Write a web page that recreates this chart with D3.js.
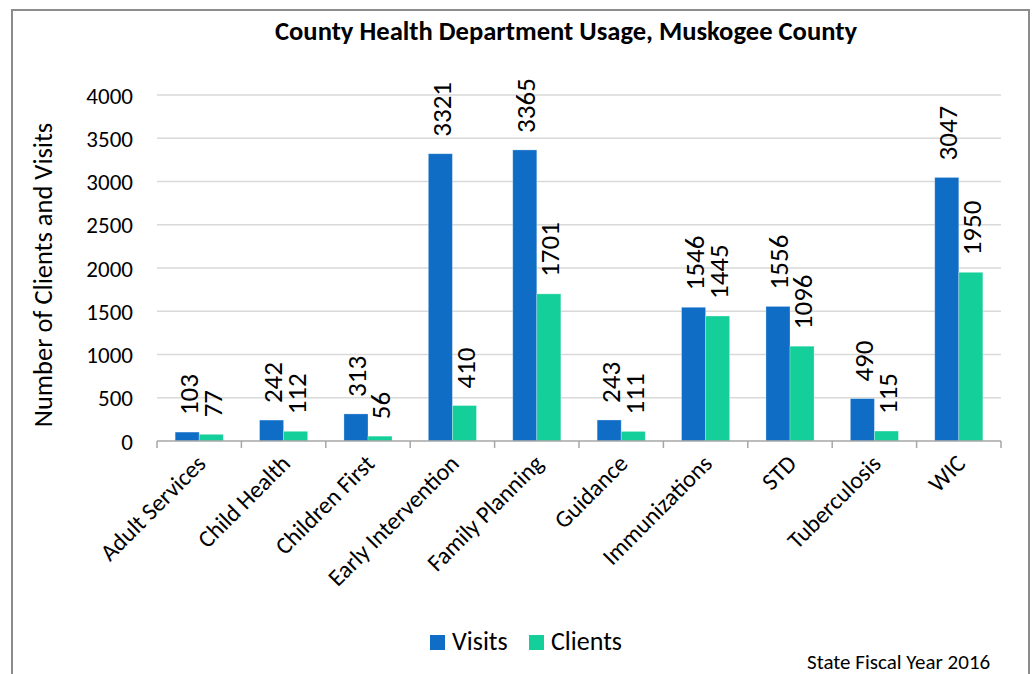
<!DOCTYPE html>
<html>
<head>
<meta charset="utf-8">
<script src="https://cdn.jsdelivr.net/npm/d3@7"></script>
<style>
  body { margin: 0; background: #fff; }
  svg text { font-family: Carlito, Lato, "Open Sans", sans-serif; fill: #000; }
</style>
</head>
<body>
<div id="chart"></div>
<script>
'use strict';

const categories = ['Adult Services', 'Child Health', 'Children First', 'Early Intervention',
  'Family Planning', 'Guidance', 'Immunizations', 'STD', 'Tuberculosis', 'WIC'];
const visits = [103, 242, 313, 3321, 3365, 243, 1546, 1556, 490, 3047];
const clients = [77, 112, 56, 410, 1701, 111, 1445, 1096, 115, 1950];
const seriesNames = ['Visits', 'Clients'];
const seriesColours = ['#106dc6', '#14cf99'];
const yTicks = [0, 500, 1000, 1500, 2000, 2500, 3000, 3500, 4000];

function makeBarChart() {
  var width = 1032;
  var height = 674;

  var svg = d3.select('#chart')
              .append('svg')
              .attr('width', width)
              .attr('height', height);

  // frame around the chart
  svg.append('rect')
     .attr('x', 12).attr('y', 10)
     .attr('width', 1017).attr('height', 680)
     .attr('fill', 'none')
     .attr('stroke', '#8c8c8c')
     .attr('stroke-width', 2);

  var x0 = d3.scaleBand()
             .domain(categories)
             .range([157, 1001]);

  var x1 = d3.scaleBand()
             .domain(seriesNames)
             .range([x0.bandwidth() * 0.215, x0.bandwidth() * 0.785]);

  var y = d3.scaleLinear()
            .domain([0, 4000])
            .range([441, 95]);

  var colour = d3.scaleOrdinal().domain(seriesNames).range(seriesColours);

  // gridlines
  svg.append('g')
     .selectAll('line')
     .data(yTicks.slice(1))
     .enter()
     .append('line')
     .attr('x1', 157).attr('x2', 1001)
     .attr('y1', function(d) { return y(d); })
     .attr('y2', function(d) { return y(d); })
     .attr('stroke', '#d9d9d9')
     .attr('stroke-width', 1.5);

  // y axis labels
  var yAxis = svg.append('g')
                 .attr('transform', 'translate(157,0)')
                 .call(d3.axisLeft(y).tickValues(yTicks).tickFormat(d3.format('d')).tickSize(0).tickPadding(24));
  yAxis.select('.domain').remove();
  yAxis.selectAll('text')
       .style('font-size', '23px')
       .attr('dy', '0.35em');

  // bars
  var rows = categories.map(function(c, i) {
    return { category: c, values: [visits[i], clients[i]] };
  });

  var group = svg.selectAll('.group')
                 .data(rows)
                 .enter()
                 .append('g')
                 .attr('class', 'group')
                 .attr('transform', function(d) { return 'translate(' + x0(d.category) + ',0)'; });

  var bar = group.selectAll('.bar')
                 .data(function(d) {
                   return seriesNames.map(function(s, j) { return { series: s, value: d.values[j] }; });
                 })
                 .enter();

  bar.append('rect')
     .attr('x', function(d) { return x1(d.series); })
     .attr('y', function(d) { return y(d.value); })
     .attr('width', x1.bandwidth())
     .attr('height', function(d) { return y(0) - y(d.value); })
     .attr('fill', function(d) { return colour(d.series); })
     .attr('stroke', '#ffffff')
     .attr('stroke-opacity', 0.35)
     .attr('stroke-width', 0.8);

  bar.append('text')
     .attr('transform', function(d) {
       return 'translate(' + (x1(d.series) + x1.bandwidth() / 2 + 1) + ',' + (y(d.value) - 17) + ') rotate(-90)';
     })
     .attr('dy', '0.35em')
     .style('font-size', '27px')
     .text(function(d) { return d.value; });

  // x axis
  var xAxis = svg.append('g')
                 .attr('transform', 'translate(0,441)');
  xAxis.append('line')
       .attr('x1', 157).attr('x2', 1001)
       .attr('stroke', '#a6a6a6').attr('stroke-width', 1.5);
  xAxis.selectAll('.tick')
       .data(categories.concat(['end']))
       .enter()
       .append('line')
       .attr('x1', function(d, i) { return 157 + i * x0.step(); })
       .attr('x2', function(d, i) { return 157 + i * x0.step(); })
       .attr('y1', 0).attr('y2', 7)
       .attr('stroke', '#a6a6a6').attr('stroke-width', 1.5);

  xAxis.selectAll('.cat')
       .data(categories)
       .enter()
       .append('text')
       .attr('text-anchor', 'end')
       .attr('transform', function(d) {
         return 'translate(' + (x0(d) + x0.bandwidth() / 2 + 8) + ',24) rotate(-45)';
       })
       .style('font-size', '24px')
       .text(function(d) { return d; });

  // y axis title
  svg.append('text')
     .attr('transform', 'translate(52,275) rotate(-90)')
     .attr('text-anchor', 'middle')
     .style('font-size', '26.5px')
     .text('Number of Clients and Visits');

  // title
  svg.append('text')
     .attr('x', 566).attr('y', 40)
     .attr('text-anchor', 'middle')
     .style('font-size', '26.6px')
     .style('font-weight', 'bold')
     .text('County Health Department Usage, Muskogee County');

  // legend
  var legendX = [430, 529];
  var legend = svg.selectAll('.legend')
                  .data(seriesNames)
                  .enter()
                  .append('g')
                  .attr('class', 'legend')
                  .attr('transform', function(d, i) { return 'translate(' + legendX[i] + ',635)'; });
  legend.append('rect')
        .attr('width', 15).attr('height', 15)
        .attr('fill', function(d) { return colour(d); });
  legend.append('text')
        .attr('x', 22).attr('y', 15)
        .style('font-size', '26px')
        .text(function(d) { return d; });

  // footnote
  svg.append('text')
     .attr('x', 807).attr('y', 669)
     .style('font-size', '21px')
     .text('State Fiscal Year 2016');
}

makeBarChart();
</script>
</body>
</html>
